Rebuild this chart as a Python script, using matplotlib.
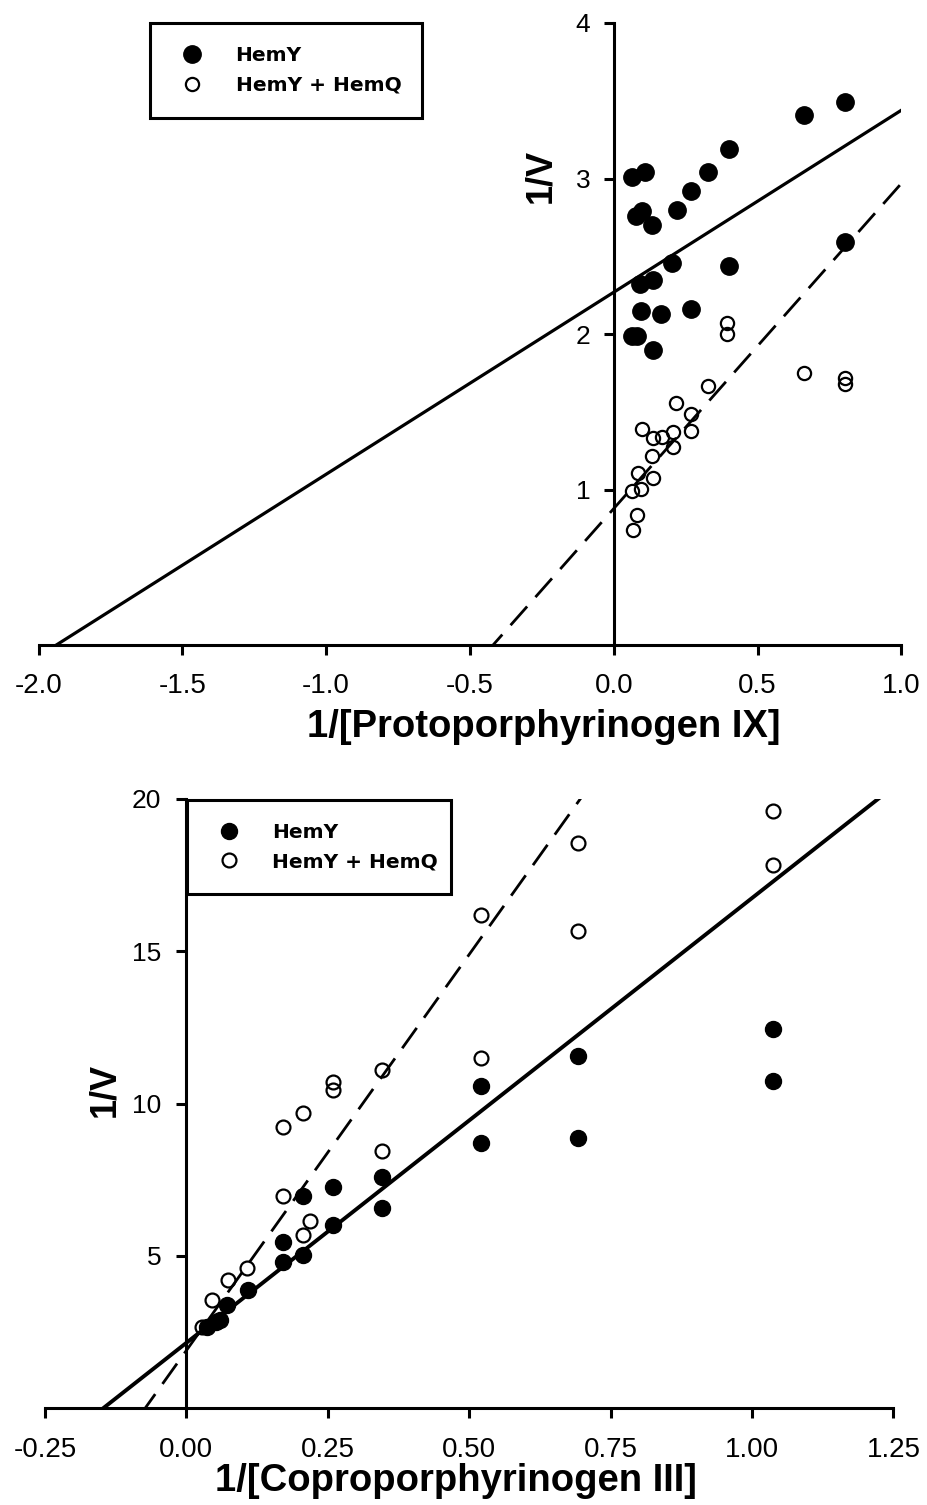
import numpy as np
import matplotlib
matplotlib.use("Agg")
import matplotlib.pyplot as plt
from matplotlib.ticker import FixedLocator, FormatStrFormatter

plt.rcParams["axes.unicode_minus"] = False

# ---- Protoporphyrinogen IX (upper panel) ----
proto_hemy_x = [0.062, 0.110, 0.328, 0.401, 0.660, 0.803, 0.076, 0.098, 0.131, 0.218,
                0.267, 0.201, 0.401, 0.803, 0.090, 0.135, 0.094, 0.163, 0.268, 0.062,
                0.081, 0.137]
proto_hemy_y = [3.01, 3.04, 3.04, 3.19, 3.41, 3.49, 2.76, 2.79, 2.70, 2.80,
                2.92, 2.46, 2.44, 2.59, 2.32, 2.35, 2.15, 2.13, 2.16, 1.99,
                1.99, 1.90]
proto_hemq_x = [0.395, 0.395, 0.328, 0.216, 0.268, 0.268, 0.098, 0.135, 0.166, 0.204,
                0.206, 0.131, 0.084, 0.137, 0.096, 0.062, 0.079, 0.067, 0.660, 0.803,
                0.803]
proto_hemq_y = [2.07, 2.00, 1.665, 1.56, 1.49, 1.38, 1.39, 1.33, 1.34, 1.37,
                1.275, 1.217, 1.108, 1.078, 1.007, 0.99, 0.84, 0.744, 1.75, 1.72,
                1.68]
# linear fits: (slope, intercept)
proto_fit_hemy = (1.17, 2.27)
proto_fit_hemq = (2.09, 0.88)
proto_xticks = [-2.0, -1.5, -1.0, -0.5, 0.0, 0.5, 1.0]
proto_yticks = [1, 2, 3, 4]

# ---- Coproporphyrinogen III (lower panel) ----
copro_hemy_x = [1.0375, 1.0375, 0.692, 0.692, 0.520, 0.520, 0.346, 0.346, 0.260, 0.260,
                0.2065, 0.2065, 0.171, 0.171, 0.109, 0.071, 0.053, 0.060, 0.036]
copro_hemy_y = [12.44, 10.74, 11.56, 8.86, 10.58, 8.70, 7.60, 6.56, 7.25, 6.01,
                6.97, 5.03, 5.46, 4.80, 3.88, 3.38, 2.83, 2.90, 2.66]
copro_hemq_x = [1.0375, 1.0375, 0.692, 0.692, 0.520, 0.520, 0.346, 0.346, 0.260, 0.260,
                0.2065, 0.171, 0.171, 0.218, 0.2065, 0.107, 0.073, 0.0445, 0.027]
copro_hemq_y = [19.6, 17.84, 18.56, 15.66, 16.19, 11.49, 11.09, 8.45, 10.71, 10.46,
                9.68, 9.22, 6.96, 6.14, 5.70, 4.60, 4.20, 3.55, 2.66]
copro_fit_hemy = (14.6, 2.15)
copro_fit_hemq = (26.0, 1.90)
copro_xticks = [-0.25, 0.0, 0.25, 0.5, 0.75, 1.0, 1.25]
copro_yticks = [5, 10, 15, 20]

labels = ["HemY", "HemY + HemQ"]

W, H = 928, 1505
fig = plt.figure(figsize=(W / 100, H / 100), dpi=100)

TICK_FONT = "Liberation Sans"
LW = 2.2


def px_axes(left, right, top, bottom):
    return fig.add_axes([left / W, 1 - bottom / H, (right - left) / W, (bottom - top) / H])


def style_axes(ax, xlim, ylim, xticks, yticks, xfmt, xpad, ypad):
    ax.set_xlim(*xlim)
    ax.set_ylim(*ylim)
    for s in ("top", "right"):
        ax.spines[s].set_visible(False)
    ax.spines["left"].set_position(("data", 0))
    ax.spines["left"].set_linewidth(LW)
    ax.spines["bottom"].set_linewidth(LW)
    ax.xaxis.set_major_locator(FixedLocator(xticks))
    ax.yaxis.set_major_locator(FixedLocator(yticks))
    ax.xaxis.set_major_formatter(FormatStrFormatter(xfmt))
    ax.yaxis.set_major_formatter(FormatStrFormatter("%d"))
    ax.tick_params(axis="x", direction="out", length=7, width=LW, pad=xpad,
                   labelsize=20)
    ax.tick_params(axis="y", direction="out", length=7, width=LW, pad=ypad,
                   labelsize=19)
    for t in ax.get_xticklabels() + ax.get_yticklabels():
        t.set_fontfamily(TICK_FONT)
    ax.patch.set_visible(False)


def draw_fit(ax, fit, **kw):
    x0, x1 = ax.get_xlim()
    xs = np.linspace(x0, x1, 200)
    slope, icpt = fit
    ax.plot(xs, slope * xs + icpt, color="black", **kw)


def draw_points(ax, hx, hy, qx, qy, fs, os_):
    h1, = ax.plot(hx, hy, "o", ls="none", ms=fs, mfc="black", mec="black", mew=1.0,
                  label=labels[0], zorder=3)
    h2, = ax.plot(qx, qy, "o", ls="none", ms=os_, mfc="none", mec="black", mew=1.6,
                  label=labels[1], zorder=3)
    return h1, h2


def draw_legend(ax, handles, left, top, right):
    leg = fig.legend(handles=handles, labels=labels, loc="upper left",
                     bbox_to_anchor=(left / W, 1 - top / H, (right - left) / W, 0),
                     bbox_transform=fig.transFigure, mode="expand", borderaxespad=0,
                     numpoints=1, handlelength=1.9, handletextpad=1.2,
                     borderpad=1.15, labelspacing=0.52, fancybox=False, shadow=False,
                     framealpha=1, edgecolor="black",
                     prop={"family": "DejaVu Sans", "weight": "bold", "size": 14.5})
    leg.get_frame().set_linewidth(LW)
    return leg


# Upper panel
ax1 = px_axes(38.5, 901.5, 23, 645.4)
style_axes(ax1, (-2.0, 1.0), (0, 4), proto_xticks, proto_yticks, "%.1f", 13, 10)
draw_fit(ax1, proto_fit_hemy, lw=2.3, zorder=4)
draw_fit(ax1, proto_fit_hemq, lw=2.0, dashes=(9, 4.5), zorder=4)
hs = draw_points(ax1, proto_hemy_x, proto_hemy_y, proto_hemq_x, proto_hemq_y, 12.5, 9.5)
ax1.set_xlabel("1/[Protoporphyrinogen IX]", fontfamily=TICK_FONT, fontweight="bold",
               fontsize=27.5)
ax1.xaxis.set_label_coords(0.5857, -0.131)
ax1.xaxis.label.set_va("center")
ax1.set_ylabel("1/V", fontfamily=TICK_FONT, fontweight="bold", fontsize=26)
ax1.yaxis.set_label_coords(0.582, 0.754)
ax1.yaxis.label.set_va("center")
draw_legend(ax1, hs, 150, 23, 421.5)

# Lower panel
ax2 = px_axes(45, 893.5, 799, 1408.3)
style_axes(ax2, (-0.25, 1.25), (0, 20), copro_xticks, copro_yticks, "%.2f", 14, 11)
draw_fit(ax2, copro_fit_hemy, lw=2.8, zorder=4)
draw_fit(ax2, copro_fit_hemq, lw=2.0, dashes=(9, 4.5), zorder=4)
hs2 = draw_points(ax2, copro_hemy_x, copro_hemy_y, copro_hemq_x, copro_hemq_y, 11.5, 10)
ax2.set_xlabel("1/[Coproporphyrinogen III]", fontfamily=TICK_FONT, fontweight="bold",
               fontsize=27.5)
ax2.xaxis.set_label_coords(0.4838, -0.119)
ax2.xaxis.label.set_va("center")
ax2.set_ylabel("1/V", fontfamily=TICK_FONT, fontweight="bold", fontsize=26)
ax2.yaxis.set_label_coords(0.0707, 0.522)
ax2.yaxis.label.set_va("center")
draw_legend(ax2, hs2, 186.5, 799.5, 451.5)

fig.savefig("out.png", dpi=100, facecolor="white")
